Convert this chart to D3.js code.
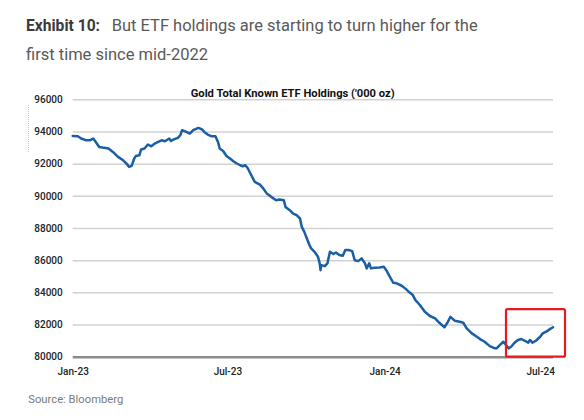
<!DOCTYPE html>
<html><head><meta charset="utf-8">
<script src="https://cdn.jsdelivr.net/npm/d3@7"></script>
<style>body{margin:0;background:#fff;} svg{display:block;font-family:Roboto, "Noto Sans", sans-serif;}</style>
</head><body><svg id="c" width="584" height="420"></svg>
<script>
const dates = [
"2023-01-01","2023-01-07","2023-01-11","2023-01-17","2023-01-21","2023-01-25","2023-01-28","2023-02-01","2023-02-05","2023-02-12",
"2023-02-17","2023-02-23","2023-03-01","2023-03-05","2023-03-08","2023-03-11","2023-03-14","2023-03-16","2023-03-20","2023-03-22",
"2023-03-26","2023-03-30","2023-04-03","2023-04-07","2023-04-11","2023-04-15","2023-04-19","2023-04-24","2023-04-26","2023-04-30",
"2023-05-04","2023-05-07","2023-05-09","2023-05-14","2023-05-18","2023-05-22","2023-05-26","2023-05-28","2023-06-01","2023-06-04",
"2023-06-08","2023-06-12","2023-06-17","2023-06-20","2023-06-22","2023-06-26","2023-06-30","2023-07-04","2023-07-08","2023-07-12",
"2023-07-16","2023-07-19","2023-07-22","2023-07-25","2023-07-29","2023-08-02","2023-08-08","2023-08-12","2023-08-16","2023-08-19",
"2023-08-23","2023-08-27","2023-08-31","2023-09-05","2023-09-07","2023-09-12","2023-09-16","2023-09-20","2023-09-24","2023-09-26",
"2023-09-29","2023-10-02","2023-10-05","2023-10-07","2023-10-11","2023-10-15","2023-10-17","2023-10-18","2023-10-19","2023-10-23",
"2023-10-26","2023-10-29","2023-11-02","2023-11-05","2023-11-09","2023-11-13","2023-11-16","2023-11-20","2023-11-24","2023-11-27",
"2023-12-01","2023-12-05","2023-12-09","2023-12-11","2023-12-14","2023-12-16","2023-12-20","2023-12-26","2023-12-31","2024-01-03",
"2024-01-07","2024-01-11","2024-01-15","2024-01-21","2024-01-26","2024-01-30","2024-02-03","2024-02-06","2024-02-11","2024-02-17",
"2024-02-23","2024-02-29","2024-03-05","2024-03-11","2024-03-15","2024-03-18","2024-03-23","2024-03-29","2024-04-02","2024-04-06",
"2024-04-12","2024-04-18","2024-04-22","2024-04-27","2024-05-03","2024-05-09","2024-05-11","2024-05-15","2024-05-19","2024-05-22",
"2024-05-25","2024-05-28","2024-06-01","2024-06-05","2024-06-09","2024-06-13","2024-06-17","2024-06-19","2024-06-22","2024-06-26",
"2024-07-01","2024-07-04","2024-07-09","2024-07-12","2024-07-16"];
const values = [
93720,93700,93560,93450,93450,93560,93350,93040,93000,92940,
92730,92420,92210,92000,91800,91860,92320,92480,92520,92880,
92940,93190,93080,93250,93350,93450,93390,93560,93410,93520,
93600,93770,94080,93970,93870,94080,94180,94220,94140,93970,
93810,93710,93710,93350,92940,92790,92480,92320,92150,92010,
91900,91840,91900,91700,91280,90870,90700,90460,90150,90040,
89870,89730,89770,89730,89310,89110,88900,88800,88590,88070,
87760,87350,86940,86730,86520,86210,85800,85380,85690,85630,
85800,86520,86380,86480,86320,86270,86630,86630,86560,86000,
85940,86110,85800,85490,85800,85490,85530,85550,85590,85380,
84970,84600,84560,84410,84200,84000,83830,83520,83230,82790,
82530,82380,82110,81830,82170,82480,82240,82170,82110,81760,
81450,81240,81080,80930,80660,80520,80520,80730,80930,80730,
80520,80620,80870,81040,81100,80990,80870,81040,80870,80990,
81240,81450,81590,81700,81830];
const yTicks = [80000, 82000, 84000, 86000, 88000, 90000, 92000, 94000, 96000];
const xTickDates = ["2023-01-01", "2023-07-01", "2024-01-01", "2024-07-01"];
const xTickLabels = ["Jan-23", "Jul-23", "Jan-24", "Jul-24"];
const headerBold = "Exhibit 10:";
const headerLine1 = "But ETF holdings are starting to turn higher for the";
const headerLine2 = "first time since mid-2022";
const chartTitle = "Gold Total Known ETF Holdings ('000 oz)";
const sourceText = "Source: Bloomberg";
const highlightStart = "2024-05-22";
const highlightTop = 82960;

const parse = d3.timeParse("%Y-%m-%d");
const data = dates.map((d, i) => ({date: parse(d), value: values[i]}));

const svg = d3.select("#c");
const L = 72.7, R = 553, T = 99.3, B = 356.7;

const x = d3.scaleTime().domain([parse(dates[0]), parse(dates[dates.length - 1])]).range([L, R]);
const y = d3.scaleLinear().domain([80000, 96000]).range([B, T]);

// Header
const h1 = svg.append("text").attr("y", 30.5).attr("font-size", 17);
h1.append("tspan").attr("x", 26).attr("font-weight", 700).attr("fill", "#3a3a3a")
  .attr("textLength", 74).attr("lengthAdjust", "spacingAndGlyphs").text(headerBold);
h1.append("tspan").attr("x", 111.7).attr("fill", "#595959")
  .attr("textLength", 366).attr("lengthAdjust", "spacingAndGlyphs").text(headerLine1);
svg.append("text").attr("x", 26).attr("y", 60).attr("font-size", 17).attr("fill", "#595959")
  .attr("textLength", 182).attr("lengthAdjust", "spacingAndGlyphs").text(headerLine2);

// faint marker artifact
svg.append("line").attr("x1", 28.5).attr("x2", 28.5).attr("y1", 105).attr("y2", 152)
  .attr("stroke", "#9fdcf2").attr("stroke-width", 1).attr("stroke-dasharray", "1,1");

// Chart title
svg.append("text").attr("x", 190.7).attr("y", 96.5).attr("font-size", 11).attr("font-weight", 700)
  .attr("fill", "#111").attr("textLength", 204).attr("lengthAdjust", "spacingAndGlyphs").text(chartTitle);

// Y axis with gridlines
const gy = svg.append("g").attr("transform", `translate(${L},0)`)
  .call(d3.axisLeft(y).tickValues(yTicks).tickSize(-(R - L)).tickPadding(10).tickFormat(d3.format("d")));
gy.select(".domain").remove();
gy.selectAll(".tick line").attr("stroke", d => d === 80000 ? "#8c8c8c" : "#d2d2d2")
  .attr("stroke-width", d => d === 80000 ? 2.6 : 1.5);
gy.selectAll(".tick text").attr("font-family", "Roboto, sans-serif").attr("font-size", 10)
  .attr("font-weight", 500).attr("fill", "#222");

// X axis
const gx = svg.append("g").attr("transform", `translate(0,${B})`)
  .call(d3.axisBottom(x).tickValues(xTickDates.map(parse)).tickSize(0).tickPadding(11.5)
    .tickFormat((d, i) => xTickLabels[i]));
gx.select(".domain").remove();
gx.selectAll(".tick text").attr("font-family", "Roboto, sans-serif").attr("font-size", 10)
  .attr("font-weight", 500).attr("fill", "#222");

// Line
svg.append("path").datum(data)
  .attr("fill", "none").attr("stroke", "#1a5fa6").attr("stroke-width", 2.5)
  .attr("stroke-linejoin", "round").attr("stroke-linecap", "round")
  .attr("d", d3.line().x(d => x(d.date)).y(d => y(d.value)));

// Highlight box
const hx0 = x(parse(highlightStart));
svg.append("rect").attr("x", hx0).attr("y", y(highlightTop))
  .attr("width", (R + 12) - hx0).attr("height", y(80000) - y(highlightTop))
  .attr("fill", "none").attr("stroke", "#e8191f").attr("stroke-width", 2.2).attr("rx", 1.5);

// Source
svg.append("text").attr("x", 28.3).attr("y", 403).attr("font-size", 11).attr("fill", "#7a7a7a")
  .attr("textLength", 95).attr("lengthAdjust", "spacingAndGlyphs").text(sourceText);
</script></body></html>
